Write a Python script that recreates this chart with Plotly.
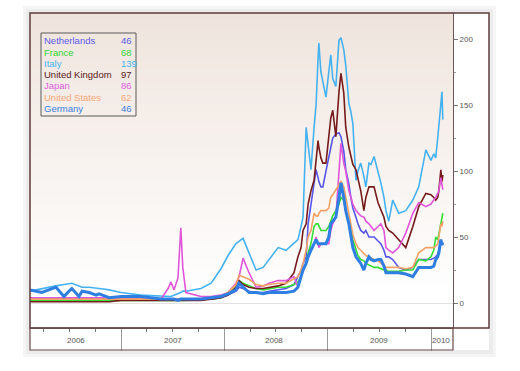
import plotly.graph_objects as go

# ---------------- data ----------------
dates = [
    "2006-02-13", "2006-03-27", "2006-05-16", "2006-06-13", "2006-07-01", "2006-07-11",
    "2006-08-05", "2006-08-16", "2006-09-10", "2006-10-05", "2006-10-15", "2006-11-20",
    "2007-01-01", "2007-03-12", "2007-05-22", "2007-06-16", "2007-06-26", "2007-07-07",
    "2007-07-21", "2007-07-31", "2007-08-07", "2007-08-18", "2007-10-10", "2007-11-15",
    "2007-12-20", "2008-01-14", "2008-02-11", "2008-02-22", "2008-03-07", "2008-03-28",
    "2008-04-22", "2008-05-17", "2008-06-07", "2008-07-09", "2008-08-06", "2008-09-03",
    "2008-09-17", "2008-09-28", "2008-10-05", "2008-10-16", "2008-10-23", "2008-11-02",
    "2008-11-13", "2008-11-20", "2008-11-27", "2008-11-30", "2008-12-07", "2008-12-14",
    "2008-12-25", "2009-01-04", "2009-01-11", "2009-01-18", "2009-01-29", "2009-02-09",
    "2009-02-16", "2009-02-26", "2009-03-05", "2009-03-16", "2009-03-23", "2009-03-30",
    "2009-04-10", "2009-04-17", "2009-04-27", "2009-05-08", "2009-05-15", "2009-05-26",
    "2009-06-02", "2009-06-13", "2009-06-27", "2009-07-07", "2009-07-18", "2009-07-25",
    "2009-08-04", "2009-08-18", "2009-09-08", "2009-10-03", "2009-10-28", "2009-11-18",
    "2009-12-13", "2009-12-31", "2010-01-10", "2010-01-17", "2010-01-24", "2010-01-28",
    "2010-02-04", "2010-02-08", "2010-02-11",
]

netherlands = [3, 3, 3, 3, 3, 3, 3, 3, 3, 3, 3, 3,
               3, 3, 3, 3, 3, 3, 3, 3, 3, 3, 3, 3,
               4, 6, 9, 12, 11, 9, 8, 8, 9, 10, 11, 14,
               20, 25, 30, 35, 60, 75, 90, 101, 95, 92, 88, 88,
               100, 110, 116, 125, 128, 129, 126, 115, 101, 90, 80, 72,
               65, 60, 55, 53, 55, 50, 50, 50, 47, 45, 40, 35,
               35, 33, 27, 25, 27, 33, 33, 33, 34, 35, 37, 40,
               48, 45, 46]
france = [2, 2, 2, 2, 2, 2, 2, 2, 2, 2, 2, 2,
          2, 2, 2, 2, 2, 2, 2, 2, 2, 2, 3, 3,
          4, 7, 12, 17, 15, 13, 11, 10, 11, 12, 12, 14,
          16, 20, 25, 30, 38, 45, 58, 60, 60, 58, 55, 55,
          55, 58, 62, 66, 70, 75, 80, 78, 70, 62, 55, 48,
          40, 36, 33, 32, 30, 29, 28, 27, 27, 26, 25, 25,
          24, 24, 24, 25, 25, 33, 32, 35, 40, 50, 48, 52,
          60, 65, 68]
italy = [9, 11, 13, 14, 15, 15, 13, 12, 12, 11, 11, 10,
         8, 6, 5, 5, 5, 6, 7, 8, 9, 9, 11, 15,
         26, 36, 45, 47, 49, 38, 25, 27, 33, 42, 40, 45,
         48, 58, 65, 133, 120, 101, 133, 150, 185, 197, 175, 167,
         156, 175, 188, 170, 164, 199, 201, 192, 180, 151, 145, 136,
         93, 100, 106, 96, 88, 106, 105, 111, 100, 91, 80, 70,
         62, 78, 68, 70, 78, 88, 116, 108, 113, 110, 125, 133,
         150, 160, 139]
united_kingdom = [1, 1, 1, 1, 1, 1, 1, 1, 1, 1, 1, 1,
                  2, 2, 2, 2, 2, 2, 2, 2, 2, 2, 2, 3,
                  4, 6, 12, 17, 14, 12, 11, 11, 12, 13, 15, 23,
                  35, 42, 55, 60, 75, 85, 93, 110, 123, 118, 110, 106,
                  106, 126, 140, 146, 126, 160, 174, 159, 133, 118, 110, 105,
                  101, 95, 85, 70, 80, 88, 88, 88, 76, 70, 65, 58,
                  55, 53, 48, 42, 58, 73, 83, 82, 80, 78, 80, 85,
                  101, 92, 97]
japan = [4, 4, 4, 4, 4, 4, 4, 4, 4, 4, 4, 4,
         3, 3, 3, 11, 16, 10, 19, 57, 27, 8, 5, 5,
         6, 8, 15, 20, 34, 23, 12, 13, 15, 17, 17, 20,
         12, 20, 25, 30, 35, 40, 45, 50, 45, 42, 45, 45,
         45, 45, 55, 60, 65, 100, 121, 106, 100, 85, 80, 75,
         70, 68, 66, 65, 62, 60, 58, 55, 58, 60, 55, 42,
         40, 38, 42, 53, 68, 76, 73, 75, 78, 80, 83, 85,
         95, 88, 86]
united_states = [3, 3, 3, 3, 3, 3, 3, 3, 3, 3, 3, 3,
                 3, 3, 3, 3, 3, 3, 3, 3, 3, 3, 3, 4,
                 5, 8, 14, 21, 20, 18, 14, 13, 14, 15, 15, 18,
                 20, 25, 30, 40, 50, 55, 68, 66, 66, 68, 70, 70,
                 70, 72, 80, 82, 86, 90, 92, 88, 80, 70, 60, 52,
                 45, 42, 40, 38, 36, 35, 34, 33, 32, 30, 28, 27,
                 27, 27, 27, 26, 27, 38, 42, 42, 42, 43, 45, 50,
                 60, 58, 62]
germany = [10, 8, 12, 5, 9, 11, 5, 9, 8, 6, 7, 4,
           5, 5, 3, 3, 3, 3, 2, 3, 3, 3, 3, 4,
           5, 7, 10, 15, 12, 8, 8, 7, 8, 8, 8, 9,
           12, 20, 25, 30, 35, 40, 45, 48, 45, 45, 45, 45,
           45, 50, 60, 62, 65, 80, 91, 80, 70, 60, 50, 42,
           35, 33, 30, 25, 30, 35, 33, 32, 33, 33, 28, 23,
           23, 23, 23, 22, 20, 27, 27, 27, 28, 33, 35, 38,
           48, 44, 46]

series_names = ["Netherlands", "France", "Italy", "United Kingdom",
                "Japan", "United States", "Germany"]
series_values = [netherlands, france, italy, united_kingdom,
                 japan, united_states, germany]
legend_values = [46, 68, 139, 97, 86, 62, 46]

year_labels = ["2006", "2007", "2008", "2009", "2010"]
year_label_dates = ["2006-07-25", "2007-07-04", "2008-06-25", "2009-07-01", "2010-02-06"]

# ---------------- style ----------------
line_colors = ["#5656e8", "#35dc35", "#45b2f0", "#761b1b",
               "#e056d8", "#f3a266", "#2f7fe2"]
text_colors = ["#5a5ae6", "#33d633", "#48b4f0", "#5a1818",
               "#e062e0", "#f5a878", "#3a80e0"]
line_widths = [1.6, 1.6, 1.6, 1.6, 1.6, 1.6, 3.0]

W, H = 520, 371
L, R, T, B = 30, 453, 13, 328
pw, ph = R - L, B - T


def px(x):
    return (x - L) / pw


def py(y):
    return (B - y) / ph


fig = go.Figure()
for name, vals, col, lw in zip(series_names, series_values, line_colors, line_widths):
    fig.add_trace(go.Scatter(x=dates, y=vals, mode="lines", name=name,
                             line=dict(color=col, width=lw), showlegend=False))

shapes = []
# soft shadow around the frame
shapes.append(dict(type="rect", xref="paper", yref="paper", layer="below",
                   x0=px(23), x1=px(496), y0=py(357), y1=py(6),
                   fillcolor="#f5f5f5", line=dict(width=0)))
shapes.append(dict(type="rect", xref="paper", yref="paper", layer="below",
                   x0=px(26), x1=px(493), y0=py(354), y1=py(9),
                   fillcolor="#ececec", line=dict(width=0)))
# white chart body
shapes.append(dict(type="rect", xref="paper", yref="paper", layer="below",
                   x0=px(30), x1=px(489), y0=py(350), y1=py(13),
                   fillcolor="white", line=dict(width=0)))
# gradient plot background (pink -> white)
n = 40
top_c = (239, 228, 221)
for i in range(n):
    f0 = i / n
    f1 = (i + 1) / n
    y_top = 1 - f0 * 0.9
    y_bot = 1 - f1 * 0.9
    t = (i + 0.5) / n
    c = tuple(int(round(tc + (255 - tc) * t)) for tc in top_c)
    shapes.append(dict(type="rect", xref="paper", yref="paper", layer="below",
                       x0=0, x1=1, y0=y_bot, y1=y_top + 0.002,
                       fillcolor="rgb(%d,%d,%d)" % c, line=dict(width=0)))
# frame: main + right panel
shapes.append(dict(type="rect", xref="paper", yref="paper",
                   x0=0, x1=px(489), y0=0, y1=1,
                   line=dict(color="#5e3c3c", width=1.5)))
# date band below the plot
shapes.append(dict(type="rect", xref="paper", yref="paper",
                   x0=0, x1=1, y0=py(350), y1=0,
                   line=dict(color="#6a4a4a", width=1.2)))
# legend box
shapes.append(dict(type="rect", xref="paper", yref="paper",
                   x0=px(41), x1=px(136), y0=py(116), y1=py(33),
                   line=dict(color="#5a5a5a", width=1)))

annotations = []
row_y = [40.5, 52, 63.3, 74.5, 86, 97, 108.5]
for name, val, col, yy in zip(series_names, legend_values, text_colors, row_y):
    annotations.append(dict(xref="paper", yref="paper", x=px(42), y=py(yy),
                            text=name, showarrow=False, xanchor="left", yanchor="middle",
                            font=dict(family="Liberation Sans, Arial", size=9.5, color=col)))
    annotations.append(dict(xref="paper", yref="paper", x=px(119), y=py(yy),
                            text=str(val), showarrow=False, xanchor="left", yanchor="middle",
                            font=dict(family="Liberation Sans, Arial", size=9.5, color=col)))
for lab, d in zip(year_labels, year_label_dates):
    annotations.append(dict(xref="x", yref="paper", x=d, y=py(340),
                            text=lab, showarrow=False, xanchor="center", yanchor="middle",
                            font=dict(family="Liberation Sans, Arial", size=8, color="#555")))

fig.update_layout(
    width=W, height=H,
    margin=dict(l=L, r=W - R, t=T, b=H - B, pad=0),
    paper_bgcolor="white",
    plot_bgcolor="rgba(0,0,0,0)",
    shapes=shapes,
    annotations=annotations,
    showlegend=False,
    xaxis=dict(
        type="date",
        range=["2006-02-13", "2010-03-19"],
        showgrid=False, zeroline=False,
        showline=True, linecolor="#8a8a8a", linewidth=1,
        tickmode="linear", tick0="2007-01-01", dtick="M12",
        ticks="outside", ticklen=22, tickcolor="#9a9a9a", tickwidth=1,
        showticklabels=False,
        minor=dict(dtick="M3", tick0="2007-01-01", ticks="outside",
                   ticklen=3, tickcolor="#777"),
    ),
    yaxis=dict(
        side="right",
        range=[-18.9, 219.7],
        showgrid=False,
        zeroline=True, zerolinecolor="#e2e2e2", zerolinewidth=1,
        showline=True, linecolor="#6a5858", linewidth=1,
        tickmode="linear", tick0=0, dtick=50,
        ticks="outside", ticklen=4, tickcolor="#777",
        tickfont=dict(family="Liberation Sans, Arial", size=8, color="#555"),
        minor=dict(dtick=25, ticks="outside", ticklen=2, tickcolor="#999"),
    ),
)

fig.write_html("out.html",
               config={"displayModeBar": False},
               post_script="document.body.style.margin='0px';document.body.style.padding='0px';")
